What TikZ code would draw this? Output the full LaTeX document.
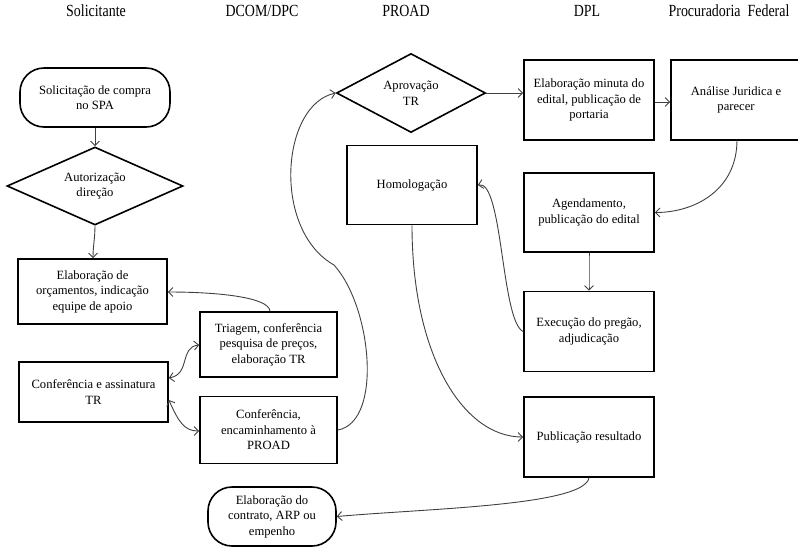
\documentclass[tikz,border=0pt]{standalone}
\usepackage{fontspec}
\setmainfont{Liberation Serif}
\usetikzlibrary{shapes.geometric,arrows.meta}
\begin{document}
\begin{tikzpicture}[x=1pt,y=-1pt,
  every node/.style={font=\fontsize{12.6}{15.5}\selectfont, align=center, inner sep=1pt},
  boxnode/.style={draw=black, line width=1.6pt, rectangle, minimum width=#1},
  boxnode/.default=130pt,
  termnode/.style={draw=black, line width=1.6pt, rectangle, rounded corners=24pt},
  decnode/.style={draw=black, line width=1.6pt, diamond, aspect=2, inner sep=0pt},
  header/.style={font=\fontsize{17}{20}\selectfont},
  conn/.style={draw=black!75, line width=0.9pt, -{Straight Barb[length=4.5pt,width=9pt]}},
  conn2/.style={draw=black!75, line width=0.9pt, {Straight Barb[length=4.5pt,width=9pt]}-{Straight Barb[length=4.5pt,width=9pt]}}
]
\useasboundingbox (0,0) rectangle (798,547);

% headers
\node[header] (h1) at (96,11) {\scalebox{0.82}[1]{Solicitante}};
\node[header] (h2) at (262,11) {\scalebox{0.82}[1]{DCOM/DPC}};
\node[header] (h3) at (406,11) {\scalebox{0.82}[1]{PROAD}};
\node[header] (h4) at (587,11) {\scalebox{0.82}[1]{DPL}};
\node[header] (h5) at (729,11) {\scalebox{0.82}[1]{Procuradoria\ \ Federal}};

% nodes
\node[termnode, minimum width=150pt, minimum height=59pt] (start) at (95,97.5) {Solicitação de compra\\no SPA};
\node[decnode, minimum width=176pt, minimum height=78pt] (aut) at (95,186) {Autorização\\direção};
\node[boxnode=149pt, minimum height=65pt] (orc) at (92.5,291.5) {Elaboração de\\orçamentos, indicação\\equipe de apoio};
\node[boxnode=137pt, minimum height=65pt] (tri) at (268.5,344.5) {Triagem, conferência\\pesquisa de preços,\\elaboração TR};
\node[boxnode=149pt, minimum height=60pt] (cass) at (93.5,392) {Conferência e assinatura\\TR};
\node[boxnode=137pt, minimum height=67pt] (cenc) at (268.5,430) {Conferência,\\encaminhamento à\\PROAD};
\node[termnode, minimum width=128pt, minimum height=59pt] (contr) at (272,516.5) {Elaboração do\\contrato, ARP ou\\empenho};
\node[decnode, minimum width=149pt, minimum height=79pt] (apr) at (411,93) {Aprovação\\TR};
\node[boxnode=130pt, minimum height=79pt] (hom) at (412,185) {Homologação};
\node[boxnode=130pt, minimum height=80pt] (min) at (589,100) {Elaboração minuta do\\edital, publicação de\\portaria};
\node[boxnode=130pt, minimum height=80pt] (ana) at (736,100) {Análise Juridica e\\parecer};
\node[boxnode=130pt, minimum height=79pt] (age) at (589,212.5) {Agendamento,\\publicação do edital};
\node[boxnode=130pt, minimum height=80pt] (exe) at (589,331.5) {Execução do pregão,\\adjudicação};
\node[boxnode=130pt, minimum height=80pt] (pub) at (589,437) {Publicação resultado};

\coordinate (smid) at (334,265);

% connectors
\draw[conn] (start.south) -- (aut.north);
\draw[conn] (aut.south) .. controls +(0,12) and +(0,-12) .. (orc.north -| 93,0);
\draw[conn] (tri.north -| 270,0) .. controls +(-1,-14) and +(50,0) .. (orc.east |- 0,292);
\draw[conn2] (cass.east |- 0,378) .. controls +(22,-4) and +(-20,2) .. (tri.west |- 0,345);
\draw[conn2] (cass.east |- 0,400) .. controls +(10,22) and +(-15,0) .. (cenc.west |- 0,431);
\draw[conn] (cenc.east) .. controls +(45,-8) and +(38,42) .. (smid) .. controls +(-62,-35) and +(-55,12) .. (apr.west);
\draw[conn] (apr.east) -- (min.west |- apr.east);
\draw[conn] (min.east |- 0,102) -- (ana.west |- 0,102);
\draw[conn] (ana.south |- 0,140) ++(1,0) .. controls +(0,50) and +(40,0) .. (age.east);
\draw[conn] (age.south) .. controls +(0,15) and +(0,-15) .. (exe.north);
\draw[conn] (exe.west) .. controls +(-22,-10) and +(25,-5) .. (hom.east);
\draw[conn] (hom.south) .. controls +(0,130) and +(-60,0) .. (pub.west);
\draw[conn] (pub.south) .. controls +(-5,28) and +(90,-8) .. (contr.east);
\end{tikzpicture}
\end{document}
